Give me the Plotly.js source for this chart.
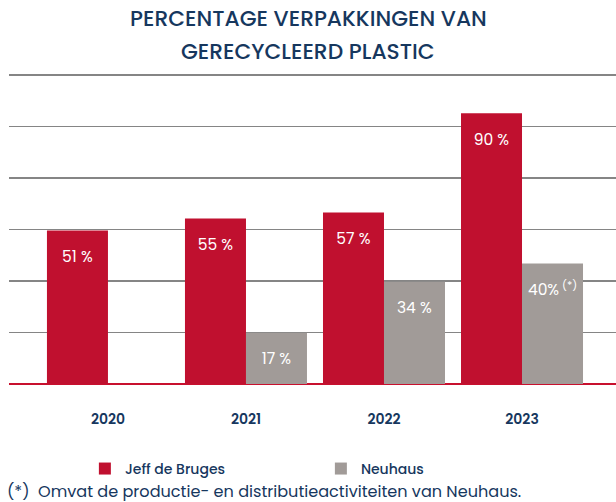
<!DOCTYPE html>
<html><head><meta charset="utf-8">
<script src="https://cdn.plot.ly/plotly-3.0.1.min.js"></script>
<style>html,body{margin:0;padding:0;background:#fff}#c{width:616px;height:502px}</style>
</head><body><div id="c"></div>
<script>
var years = ['2020', '2021', '2022', '2023'];
var jeffValues = [51, 55, 57, 90];
var neuhausValues = [null, 17, 34, 40];
var jeffLabels = ['51 %', '55 %', '57 %', '90 %'];
var neuhausLabels = ['', '17 %', '34 %', '40%<sup> (*)</sup>'];
var seriesNames = ['Jeff de Bruges', 'Neuhaus'];
var titleLines = ['PERCENTAGE VERPAKKINGEN VAN', 'GERECYCLEERD PLASTIC'];
var footnote = '(*)  Omvat de productie- en distributieactiviteiten van Neuhaus.';

var navy = '#16375e';
var font = 'Poppins, "Noto Sans", "Open Sans", sans-serif';

function lab(arr){ return arr.map(function(s){ return s ? '\u00a0<br><span style="font-size:15.5px">' + s + '</span>' : ''; }); }

var traces = [
  {type:'bar', name:seriesNames[0], x:years, y:jeffValues, text:lab(jeffLabels),
   textposition:'inside', insidetextanchor:'end', textangle:0, texttemplate:'%{text}',
   textfont:{color:'#ffffff', size:12, family:font, weight:400}, marker:{color:'#c0102f'}, hoverinfo:'skip'},
  {type:'bar', name:seriesNames[1], x:years, y:neuhausValues, text:lab(neuhausLabels),
   textposition:'inside', insidetextanchor:'end', textangle:0, texttemplate:'%{text}',
   textfont:{color:'#ffffff', size:12, family:font, weight:400}, marker:{color:'#a19b98'}, hoverinfo:'skip'}
];

var layout = {
  width:616, height:502,
  margin:{l:9, r:0, t:74, b:118},
  paper_bgcolor:'#ffffff', plot_bgcolor:'#ffffff',
  font:{family:font, color:navy},
  barmode:'group', bargap:0.116, bargroupgap:0,
  uniformtext:{minsize:12, mode:'show'},
  showlegend:true,
  legend:{orientation:'h', x:0.125, xanchor:'left', y:-0.274, yanchor:'middle',
          font:{size:14, color:navy, family:font, weight:500}, entrywidth:191, itemwidth:30,
          traceorder:'normal'},
  xaxis:{type:'category', range:[-0.717, 3.681], showgrid:false, showline:false, zeroline:false,
         ticks:'', ticklabelstandoff:25, tickfont:{size:14, color:navy, family:font, weight:600}},
  yaxis:{range:[0, 103], dtick:17.11, tick0:0, showticklabels:false, showgrid:true,
         gridcolor:'#858585', gridwidth:1.2, zeroline:true, zerolinecolor:'#c8102e', zerolinewidth:1.5,
         showline:false, ticks:''},
  annotations:[
    {text:titleLines[0], xref:'paper', yref:'paper', x:0.5, y:0, xanchor:'center', yanchor:'middle', showarrow:false,
     font:{size:21.8, color:navy, family:font, weight:500}},
    {text:titleLines[1], xref:'paper', yref:'paper', x:0.5, y:0, xanchor:'center', yanchor:'middle', showarrow:false,
     font:{size:21.8, color:navy, family:font, weight:500}},
    {text:footnote, xref:'paper', yref:'paper', x:0, y:0, xanchor:'left', yanchor:'middle', showarrow:false,
     font:{size:16.1, color:navy, family:font}}
  ]
};
var plotH = 502 - 74 - 118, plotW = 616 - 9;
function py(pix){ return (502 - 118 - pix) / plotH; }
function px(pix){ return (pix - 9) / plotW; }
layout.annotations[0].x = px(308); layout.annotations[0].y = py(19);
layout.annotations[1].x = px(308); layout.annotations[1].y = py(52);
layout.annotations[2].x = px(5); layout.annotations[2].y = py(491);

Plotly.newPlot('c', traces, layout, {displayModeBar:false, staticPlot:true});
</script></body></html>
